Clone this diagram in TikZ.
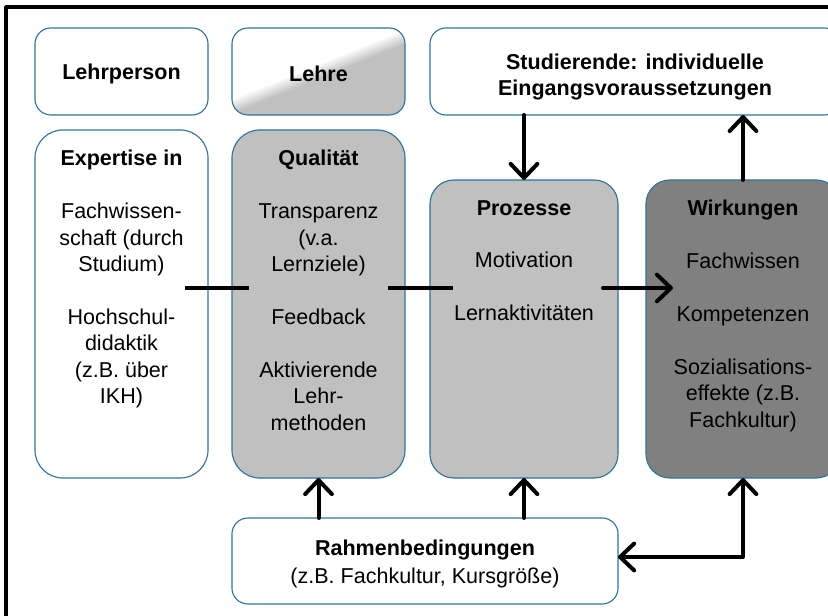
\documentclass[tikz,border=0pt]{standalone}
\usepackage{fontspec}
\setmainfont{Liberation Sans}
\usetikzlibrary{arrows.meta,calc}
\definecolor{khung}{RGB}{49,115,150}
\definecolor{xamnhat}{RGB}{192,192,192}
\definecolor{xamdam}{RGB}{128,128,128}

\begin{document}
\begin{tikzpicture}[line cap=round,line join=round,x=0.025cm,y=0.025cm,
font=\fontsize{15.3}{18.8}\selectfont,
hop/.style={draw=khung,line width=0.8pt,rounded corners=0.4cm,inner sep=0pt,
outer sep=0pt,align=center},
chu/.style={align=center,anchor=north,inner sep=0pt},
noi/.style={line width=2.85pt,line cap=butt},
ten/.style={line width=2.85pt,-{Straight Barb[round,length=10pt,width=19pt]}},
tenhai/.style={line width=2.85pt,
{Straight Barb[round,length=10pt,width=19pt]}-{Straight Barb[round,length=10pt,width=19pt]}}]
\path[use as bounding box] (0,0) rectangle (828,616);
\clip (0,0) rectangle (828,616);
% Khung ngoai
\draw[line width=2.2pt] (6,0) |- (828,609);
% Hang tren
\node[hop,minimum width=4.325cm,minimum height=2.175cm] (lehrperson) at (121.5,544.5)
{\rule{0pt}{15pt}\textbf{Lehrperson}};
% nen chuyen mau cua o Lehre
\coordinate (tam) at (318.5,544.5);
\begin{scope}
\clip[rounded corners=0.4cm] (232,501) rectangle (405,588);
\fill[white] ($(tam)+(112:8)+(22:-200)$) -- ($(tam)+(112:8)+(22:200)$)
-- ($(tam)+(112:200)+(22:200)$) -- ($(tam)+(112:200)+(22:-200)$) -- cycle;
\fill[xamnhat] ($(tam)+(112:-8)+(22:-200)$) -- ($(tam)+(112:-8)+(22:200)$)
-- ($(tam)+(112:-200)+(22:200)$) -- ($(tam)+(112:-200)+(22:-200)$) -- cycle;
\foreach \k [evaluate=\k as \tu using -8+2*\k, evaluate=\k as \mau using 100*\k/7]
in {0,...,7}
\fill[white!\mau!xamnhat] ($(tam)+(112:\tu-0.2)+(22:-200)$) -- ($(tam)+(112:\tu-0.2)+(22:200)$)
-- ($(tam)+(112:\tu+2.2)+(22:200)$) -- ($(tam)+(112:\tu+2.2)+(22:-200)$) -- cycle;
\end{scope}
\node[hop,minimum width=4.325cm,minimum height=2.175cm] (lehre) at (tam)
{\rule{0pt}{15pt}\textbf{Lehre}};
\node[hop,minimum width=10.25cm,minimum height=2.175cm] (stud) at (635,544.5)
{\rule{0pt}{19pt}\textbf{Studierende: individuelle}\\\textbf{Eingangsvoraussetzungen}};
% Cac cot lon
\node[hop,rounded corners=0.7cm,minimum width=4.325cm,minimum height=8.7cm] (exp)
at (121.5,312) {};
\node[chu] (exptext) at ([yshift=-0.5cm]exp.north) {\textbf{Expertise in}\\[18.8pt]
Fachwissen-\\schaft (durch\\Studium)\\[18.8pt] Hochschul-\\didaktik\\(z.B. über\\IKH)};
\node[hop,rounded corners=0.7cm,fill=xamnhat,minimum width=4.325cm,minimum height=8.7cm]
(qual) at (318.5,312) {};
\node[chu] (qualtext) at ([yshift=-0.5cm]qual.north) {\textbf{Qualität}\\[18.8pt]
Transparenz\\(v.a.\\Lernziele)\\[18.8pt] Feedback\\[18.8pt] Aktivierende\\Lehr-\\methoden};
\node[hop,rounded corners=0.6cm,fill=xamnhat,minimum width=4.7cm,minimum height=7.45cm]
(proz) at (524,287) {};
\node[chu] (proztext) at ([yshift=-0.5cm]proz.north) {\textbf{Prozesse}\\[18.8pt]
Motivation\\[18.8pt] Lernaktivitäten};
\node[hop,rounded corners=0.6cm,fill=xamdam,minimum width=4.85cm,minimum height=7.45cm]
(wirk) at (743,287) {};
\node[chu] (wirktext) at ([yshift=-0.5cm]wirk.north) {\textbf{Wirkungen}\\[18.8pt]
Fachwissen\\[18.8pt] Kompetenzen\\[18.8pt] Sozialisations-\\effekte (z.B.\\Fachkultur)};
% Hop duoi
\node[hop,minimum width=9.65cm,minimum height=2.15cm] (rahmen) at (425,55)
{\rule{0pt}{15pt}\textbf{Rahmenbedingungen}\\[1pt](z.B. Fachkultur, Kursgröße)};
% Cac duong noi
\coordinate (giua) at (0,328);
\draw[noi] ($(exp.east |- giua)+(-23,0)$) -- ($(qual.west |- giua)+(17,0)$);
\draw[noi] ($(qual.east |- giua)+(-17,0)$) -- ($(proz.west |- giua)+(23,0)$);
\draw[ten] ($(proz.east |- giua)+(-15,0)$) -- ($(wirk.west |- giua)+(27,0)$);
\draw[ten] (stud.south -| proz.north) -- (proz.north);
\draw[ten] (wirk.north) -- (wirk.north |- stud.south);
\draw[ten] (qual.south |- rahmen.north) -- (qual.south);
\draw[ten] (proz.south |- rahmen.north) -- (proz.south);
\draw[tenhai] ($(rahmen.east)+(0,4)$) -| (wirk.south);
\end{tikzpicture}
\end{document}
